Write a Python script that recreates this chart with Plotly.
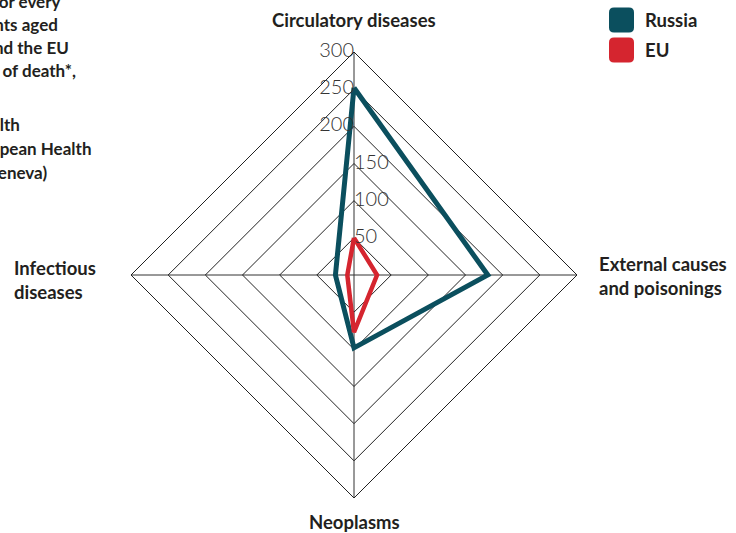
import plotly.graph_objects as go

W, H = 736, 533

causes = ['Circulatory diseases', 'External causes and poisonings', 'Neoplasms', 'Infectious diseases']
russia = [252, 180, 98, 25]
eu = [50, 31, 77, 9]

tick_vals = [50, 100, 150, 200, 250, 300]
tick_labels = ['50', '100', '150', '200', '250', '300']

title_lines = [
    'Number of deaths for every',
    '100,000 inhabitants aged',
    '0-64 in Russia and the EU',
    'by main causes of death*,',
    '2011',
    '',
    'Source: World Health',
    'Organization (European Health',
    'for All database, Geneva)',
]

RUSSIA_COL = '#0b4f5e'
EU_COL = '#d5252f'
TXT = '#231f20'
FONT = 'Lato'


def px(x):
    return x / W


def py(y):
    return 1 - y / H


def closed(v):
    return v + v[:1]


fig = go.Figure()

fig.add_trace(go.Scatterpolar(
    r=closed(russia), theta=closed(causes), mode='lines', name='Russia',
    line=dict(color=RUSSIA_COL, width=5), showlegend=False
))
fig.add_trace(go.Scatterpolar(
    r=closed(eu), theta=closed(causes), mode='lines', name='EU',
    line=dict(color=EU_COL, width=4.5), showlegend=False
))

# radial tick labels along the top spoke
fig.add_trace(go.Scatterpolar(
    r=tick_vals, theta=[causes[0]] * len(tick_vals), mode='text',
    text=tick_labels,
    textposition=['middle right', 'middle right', 'middle right',
                  'middle left', 'middle left', 'middle left'],
    textfont=dict(family=FONT, size=20, color='#333333', weight=300),
    showlegend=False, hoverinfo='skip'
))

fig.update_layout(
    width=W, height=H,
    paper_bgcolor='white',
    margin=dict(l=0, r=0, t=0, b=0),
    font=dict(family=FONT, color=TXT),
    polar=dict(
        domain=dict(x=[px(131), px(577)], y=[py(498), py(52)]),
        bgcolor='white',
        gridshape='linear',
        radialaxis=dict(
            range=[0, 300], tickvals=tick_vals, showticklabels=False,
            ticks='', showline=False, gridcolor='#222222', gridwidth=1,
            angle=90
        ),
        angularaxis=dict(
            categoryarray=causes, categoryorder='array',
            rotation=90, direction='clockwise',
            showticklabels=False, ticks='',
            showline=True, linecolor='#222222', linewidth=1,
            gridcolor='#333333', gridwidth=1
        )
    )
)

annotations = []
lab = dict(family=FONT, size=18.5, color=TXT, weight=700)
annotations.append(dict(x=px(354), y=py(20), text='Circulatory diseases',
                        xanchor='center', yanchor='middle', font=lab))
annotations.append(dict(x=px(597), y=py(276), text='External causes<br>and poisonings',
                        xanchor='left', yanchor='middle', align='left', font=lab))
annotations.append(dict(x=px(12), y=py(280), text='Infectious<br>diseases',
                        xanchor='left', yanchor='middle', align='left', font=lab))
annotations.append(dict(x=px(354), y=py(522), text='Neoplasms',
                        xanchor='center', yanchor='middle', font=lab))

# cut-off title/source block at the top left
title_y = [1, 24, 47, 70, 93, 0, 124, 148, 172]
title_right = [63, 60, 71, 78, -4, 0, 22, 93, 49]
for t, yy, xr in zip(title_lines, title_y, title_right):
    if not t:
        continue
    annotations.append(dict(x=px(xr), y=py(yy), text=t, xanchor='right',
                            yanchor='middle', font=dict(family=FONT, size=17, color=TXT, weight=700)))

# legend
for name, col, yc in [('Russia', RUSSIA_COL, 20), ('EU', EU_COL, 50)]:
    x0, x1, y0, y1, rr = 609, 634, yc - 12.5, yc + 12.5, 5
    path = (f'M {px(x0 + rr)},{py(y0)} L {px(x1 - rr)},{py(y0)} Q {px(x1)},{py(y0)} {px(x1)},{py(y0 + rr)} '
            f'L {px(x1)},{py(y1 - rr)} Q {px(x1)},{py(y1)} {px(x1 - rr)},{py(y1)} '
            f'L {px(x0 + rr)},{py(y1)} Q {px(x0)},{py(y1)} {px(x0)},{py(y1 - rr)} '
            f'L {px(x0)},{py(y0 + rr)} Q {px(x0)},{py(y0)} {px(x0 + rr)},{py(y0)} Z')
    fig.add_shape(type='path', xref='paper', yref='paper', path=path,
                  fillcolor=col, line=dict(width=0))
    annotations.append(dict(x=px(643), y=py(yc), text=name, xanchor='left',
                            yanchor='middle', font=lab))

for a in annotations:
    a.update(xref='paper', yref='paper', showarrow=False)
fig.update_layout(annotations=annotations)

fig.write_html('out.html', config={'displayModeBar': False},
               post_script="document.body.style.margin='0';")
